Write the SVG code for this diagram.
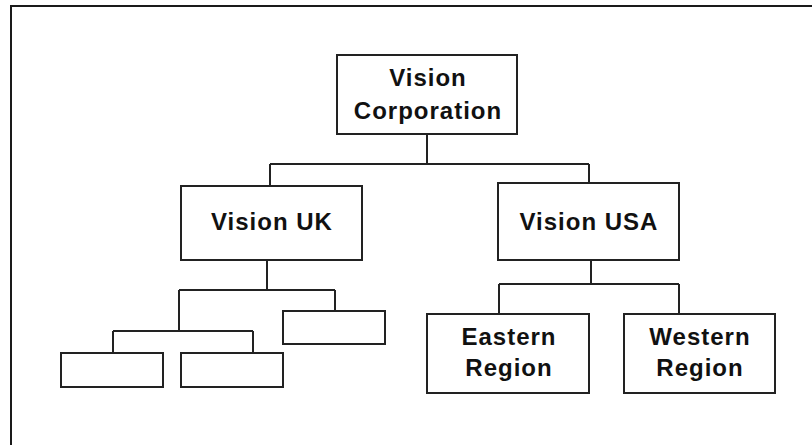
<svg xmlns="http://www.w3.org/2000/svg" width="812" height="445" viewBox="0 0 812 445">
<style>
.box{fill:#fff;stroke:#222;stroke-width:2}
.ln{fill:none;stroke:#222;stroke-width:2}
.fr{fill:none;stroke:#1a1a1a;stroke-width:2}
text{font-family:"Liberation Sans",Arial,sans-serif;font-weight:bold;font-size:24px;fill:#111;text-anchor:middle;letter-spacing:1px}
</style>
<rect width="812" height="445" fill="#fff"/>
<g id="frame">
<path class="fr" d="M11 445 V6 H812"/>
</g>
<g id="connectors">
<path class="ln" d="M427 134 V164 M270 164 H589 M270 164 V186 M589 164 V183"/>
<path class="ln" d="M267 260 V290 M179 290 H335 M335 290 V311 M179 290 V331 M113 331 H253 M113 331 V353 M253 331 V353"/>
<path class="ln" d="M591 260 V284 M499 284 H679 M499 284 V314 M679 284 V314"/>
</g>
<g id="vision-corporation">
<rect class="box" x="337" y="55" width="180" height="79"/>
<text x="428" y="86">Vision</text>
<text x="428" y="119">Corporation</text>
</g>
<g id="vision-uk">
<rect class="box" x="181" y="186" width="181" height="74"/>
<text x="272" y="230">Vision UK</text>
</g>
<g id="vision-usa">
<rect class="box" x="498" y="183" width="181" height="77"/>
<text x="589" y="230">Vision USA</text>
</g>
<g id="uk-right">
<rect class="box" x="283" y="311" width="102" height="33"/>
</g>
<g id="uk-left-1">
<rect class="box" x="61" y="353" width="102" height="34"/>
</g>
<g id="uk-left-2">
<rect class="box" x="181" y="353" width="102" height="34"/>
</g>
<g id="eastern-region">
<rect class="box" x="427" y="314" width="162" height="79"/>
<text x="509" y="345">Eastern</text>
<text x="509" y="376">Region</text>
</g>
<g id="western-region">
<rect class="box" x="624" y="314" width="151" height="79"/>
<text x="700" y="345">Western</text>
<text x="700" y="376">Region</text>
</g>
</svg>
